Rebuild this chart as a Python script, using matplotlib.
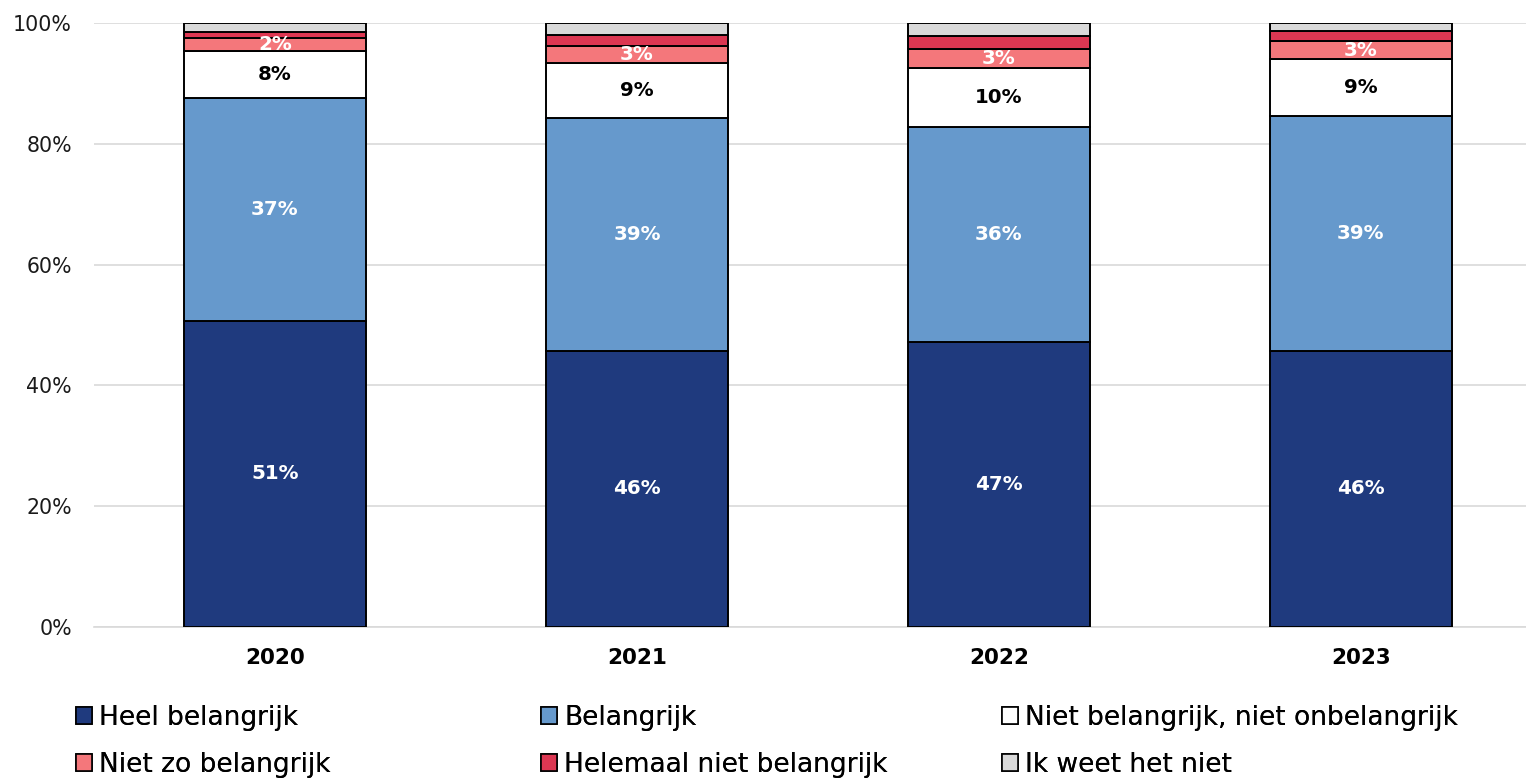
import matplotlib
matplotlib.use("Agg")
import matplotlib.pyplot as plt
from matplotlib.patches import Patch

plt.rcParams['font.family'] = ['DejaVu Sans']

years = ['2020', '2021', '2022', '2023']
categories = ['Heel belangrijk', 'Belangrijk', 'Niet belangrijk, niet onbelangrijk',
              'Niet zo belangrijk', 'Helemaal niet belangrijk', 'Ik weet het niet']
heel = [50.7, 45.7, 47.2, 45.7]
belangrijk = [36.9, 38.6, 35.6, 38.9]
neutraal = [7.8, 9.1, 9.8, 9.4]
niet_zo = [2.1, 2.8, 3.1, 3.0]
helemaal_niet = [1.0, 1.8, 2.2, 1.7]
weet_niet = [1.5, 2.0, 2.1, 1.3]

series = [heel, belangrijk, neutraal, niet_zo, helemaal_niet, weet_niet]
colors = ['#1F3A7E', '#6699CC', '#FFFFFF', '#F4777B', '#DC3752', '#D9D9D9']
label_colors = ['white', 'white', 'black', 'white', None, None]

fig = plt.figure(figsize=(15.26, 7.81), dpi=100)
ax = fig.add_axes([94 / 1526, 1 - 627 / 781, (1526 - 94) / 1526, 604 / 781])

x = list(range(len(years)))
bottom = [0.0] * len(years)
for vals, col, lc in zip(series, colors, label_colors):
    ax.bar(x, vals, width=0.503, bottom=bottom, color=col, edgecolor='black',
           linewidth=1.4, zorder=3)
    if lc is not None:
        for i, v in enumerate(vals):
            ax.text(i, bottom[i] + v / 2, f"{round(v)}%", ha='center', va='center',
                    color=lc, fontsize=14.3, fontweight='bold', zorder=4)
    bottom = [b + v for b, v in zip(bottom, vals)]

ax.set_xlim(-0.5, 3.456)
ax.set_ylim(0, 100)
ax.set_yticks(range(0, 101, 20))
ax.set_yticklabels([f"{t}%" for t in range(0, 101, 20)], fontsize=14.8, color='#1a1a1a')
ax.set_xticks(x)
ax.set_xticklabels(years, fontsize=15.5, fontweight='bold')
ax.tick_params(axis='x', length=0, pad=15)
ax.tick_params(axis='y', length=0, pad=16)
ax.grid(axis='y', color='#D9D9D9', linewidth=1.2, zorder=0)
for s in ['top', 'right', 'left']:
    ax.spines[s].set_visible(False)
ax.spines['bottom'].set_color('#D9D9D9')
ax.spines['bottom'].set_linewidth(1.2)

handles = [Patch(facecolor=c, edgecolor='black', linewidth=1.2) for c in colors]
col_x = [76 / 1526, 541 / 1526, 1002 / 1526]
for k in range(3):
    idx = [k, k + 3]
    leg = fig.legend([handles[i] for i in idx], [categories[i] for i in idx],
                     loc='upper left', bbox_to_anchor=(col_x[k], 1 - 705 / 781),
                     frameon=False, fontsize=19, handlelength=0.62, handleheight=0.62,
                     handletextpad=0.25, labelspacing=0.8, borderaxespad=0,
                     borderpad=0)
    fig.add_artist(leg)

fig.savefig('out.png', dpi=100)
